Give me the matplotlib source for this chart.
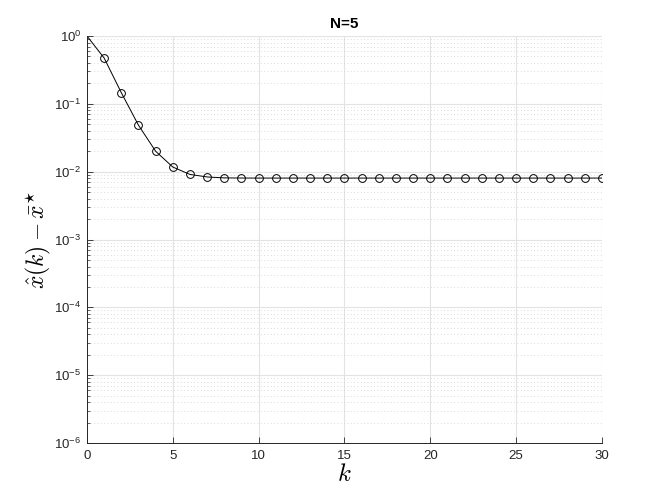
import matplotlib
matplotlib.use("Agg")
import matplotlib.pyplot as plt
from matplotlib.ticker import FixedLocator, NullFormatter

plt.rcParams['font.family'] = ['Liberation Sans', 'DejaVu Sans']
plt.rcParams['mathtext.fontset'] = 'cm'

k = list(range(0, 31))
err = [1.0, 0.473, 0.146, 0.0484, 0.0200, 0.0117, 0.0091, 0.00836, 0.00810,
       0.00806, 0.00805, 0.00805, 0.00805, 0.00805, 0.00805, 0.00805, 0.00805,
       0.00805, 0.00805, 0.00805, 0.00805, 0.00805, 0.00805, 0.00805, 0.00805,
       0.00805, 0.00805, 0.00805, 0.00805, 0.00805, 0.00805]
title = "N=5"
xticks = [0, 5, 10, 15, 20, 25, 30]
yticks = [1e-6, 1e-5, 1e-4, 1e-3, 1e-2, 1e-1, 1e0]

fig = plt.figure(figsize=(6.64, 4.98), dpi=100)
ax = fig.add_axes([0.131, 0.1104, 0.7756, 0.8173])

ax.plot(k, err, color='black', linewidth=0.7, marker='o', markersize=5.6,
        markerfacecolor='none', markeredgecolor='black', markeredgewidth=0.7,
        markevery=list(range(1, len(k))))

ax.set_yscale('log')
ax.set_ylim(yticks[0], yticks[-1])
ax.set_xlim(xticks[0], xticks[-1])
ax.set_xticks(xticks)
ax.set_yticks(yticks)
minor = [m * d for d in yticks[:-1] for m in range(2, 10)]
ax.yaxis.set_minor_locator(FixedLocator(minor))
ax.yaxis.set_minor_formatter(NullFormatter())

ax.grid(True, which='major', axis='both', color='#e3e3e3', linewidth=0.8, linestyle='-')
ax.grid(True, which='minor', axis='y', color='#cfcfcf', linewidth=0.6, linestyle=(0, (1, 3)))
ax.set_axisbelow(True)

for s in ['top', 'right']:
    ax.spines[s].set_visible(False)
for s in ['left', 'bottom']:
    ax.spines[s].set_color('#262626')
    ax.spines[s].set_linewidth(0.7)

ax.tick_params(which='both', direction='in', labelsize=9.5, colors='#262626')
ax.tick_params(which='major', length=4, width=0.6)
ax.tick_params(which='minor', length=2, width=0.5)
ax.tick_params(axis='x', which='both', top=False, pad=5)
ax.tick_params(axis='y', which='both', right=False, pad=4)

ax.set_title(title, fontsize=11, fontweight='bold', pad=6)
ax.set_xlabel(r'$k$', fontsize=18, labelpad=0)
ax.set_ylabel(r'$\hat{x}(k) - \bar{x}^{\star}$', fontsize=17, labelpad=1)

fig.savefig('out.png', dpi=100)
